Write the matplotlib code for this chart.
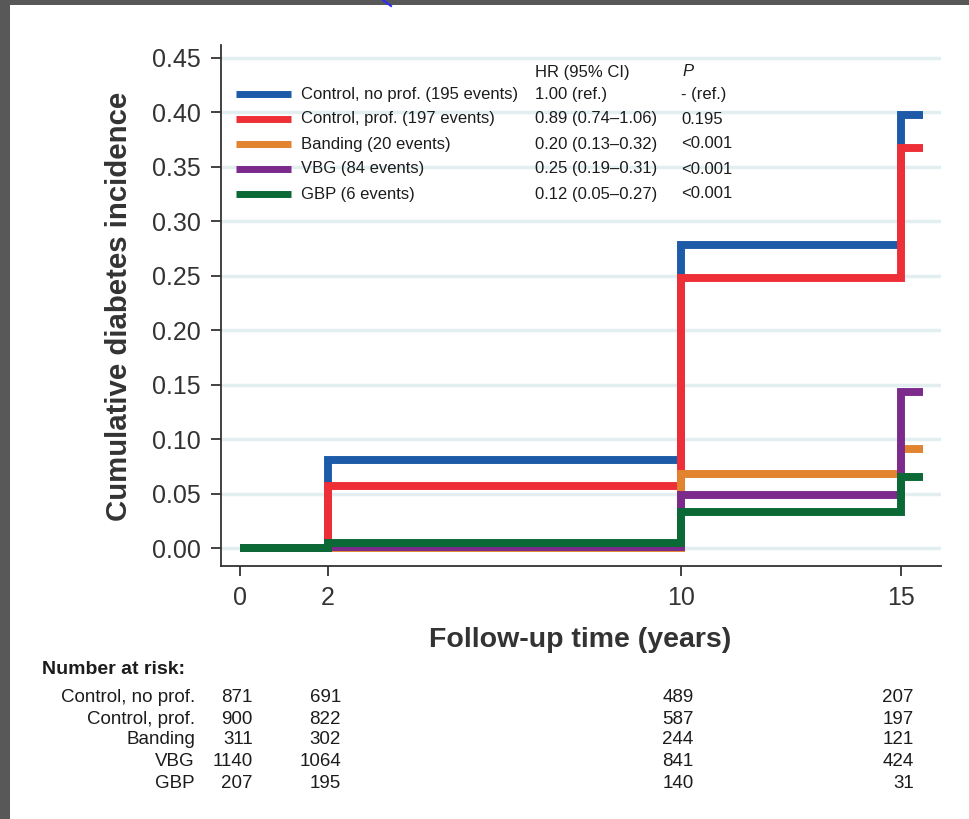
import matplotlib
matplotlib.use('Agg')
import matplotlib.pyplot as plt
import matplotlib.transforms as mtransforms
from matplotlib.lines import Line2D
from matplotlib.patches import Rectangle
from matplotlib.ticker import FormatStrFormatter

plt.rcParams['font.family'] = ['Liberation Sans', 'DejaVu Sans']

# ---------------- data ----------------
step_times = [0, 2, 10, 15, 15.5]
group_names = ['Control, no prof.', 'Control, prof.', 'Banding', 'VBG', 'GBP']
group_events = [195, 197, 20, 84, 6]
inc_control_noprof = [0.0, 0.081, 0.278, 0.397, 0.397]
inc_control_prof = [0.0, 0.057, 0.248, 0.367, 0.367]
inc_banding = [0.0, 0.0, 0.068, 0.091, 0.091]
inc_vbg = [0.0, 0.001, 0.049, 0.143, 0.143]
inc_gbp = [0.0, 0.005, 0.033, 0.065, 0.065]
hr_labels = ['1.00 (ref.)', '0.89 (0.74\u20131.06)', '0.20 (0.13\u20130.32)',
             '0.25 (0.19\u20130.31)', '0.12 (0.05\u20130.27)']
p_labels = ['- (ref.)', '0.195', '<0.001', '<0.001', '<0.001']
risk_times = [0, 2, 10, 15]
risk_control_noprof = [871, 691, 489, 207]
risk_control_prof = [900, 822, 587, 197]
risk_banding = [311, 302, 244, 121]
risk_vbg = [1140, 1064, 841, 424]
risk_gbp = [207, 195, 140, 31]
x_ticks = [0, 2, 10, 15]
y_ticks = [0.00, 0.05, 0.10, 0.15, 0.20, 0.25, 0.30, 0.35, 0.40, 0.45]

series = [inc_control_noprof, inc_control_prof, inc_banding, inc_vbg, inc_gbp]
risks = [risk_control_noprof, risk_control_prof, risk_banding, risk_vbg, risk_gbp]
colors = ['#1d5aa8', '#ee2f37', '#e2832f', '#7c2a8c', '#0a6935']
txt = '#1c1c1c'

W, H = 969, 819
def fx(p):
    return p / W
def fy(p):
    return 1 - p / H

fig = plt.figure(figsize=(W / 100, H / 100), dpi=100, facecolor='#585858')
fig.add_artist(Rectangle((fx(10), 0), 1 - fx(10), fy(5), transform=fig.transFigure,
                         facecolor='white', edgecolor='none', zorder=-10))
fig.add_artist(Line2D([fx(383), fx(391)], [fy(0), fy(6)], color='#2a2aff', lw=1.5,
                      transform=fig.transFigure))

ax = fig.add_axes([fx(221), fy(566), (941 - 221) / W, (566 - 45) / H])
ax.set_facecolor('white')

for ys, c in zip(series, colors):
    ax.plot(step_times, ys, drawstyle='steps-post', color=c, lw=5.7,
            solid_capstyle='butt', solid_joinstyle='miter', zorder=3)

ax.set_xlim(-0.43, 15.91)
ax.set_ylim(-0.0162, 0.4615)
ax.set_xticks(x_ticks)
ax.set_yticks(y_ticks)
ax.yaxis.set_major_formatter(FormatStrFormatter('%.2f'))
ax.grid(axis='y', color='#e3eef1', lw=2.5)
ax.set_axisbelow(True)
for s in ['top', 'right']:
    ax.spines[s].set_visible(False)
for s in ['left', 'bottom']:
    ax.spines[s].set_color('#333333')
    ax.spines[s].set_linewidth(1.3)
ax.tick_params(axis='both', direction='out', length=7.5, width=1.3, color='#333333',
               labelsize=18, labelcolor='#333333')
ax.tick_params(axis='y', pad=7)
ax.tick_params(axis='x', pad=7)

fig.text(fx(119), fy(306), 'Cumulative diabetes incidence', rotation=90,
         fontsize=21.2, fontweight='bold', color='#333333', ha='center', va='center')
fig.text(fx(580), fy(640), 'Follow-up time (years)', fontsize=20.5,
         fontweight='bold', color='#333333', ha='center', va='center')

# legend-like table
row_y = [94, 119, 144, 169, 194]
fig.text(fx(535), fy(72), 'HR (95% CI)', fontsize=12, color=txt, ha='left', va='center')
fig.text(fx(682), fy(72), 'P', fontsize=12, color=txt, ha='left', va='center', style='italic')
for i, (name, ev, hr, p, c) in enumerate(zip(group_names, group_events, hr_labels, p_labels, colors)):
    fig.add_artist(Line2D([fx(236), fx(291)], [fy(row_y[i]), fy(row_y[i])], color=c,
                          lw=5, solid_capstyle='butt', transform=fig.transFigure))
    fig.text(fx(301), fy(row_y[i]), f'{name} ({ev} events)', fontsize=12, color=txt,
             ha='left', va='center')
    fig.text(fx(535), fy(row_y[i]), hr, fontsize=12, color=txt, ha='left', va='center')
    fig.text(fx(681), fy(row_y[i]), p, fontsize=12, color=txt, ha='left', va='center')

# number at risk
fig.text(fx(42), fy(670), 'Number at risk:', fontsize=14, fontweight='bold', color=txt,
         ha='left', va='center')
risk_y = [697, 719, 740, 762, 784]
blend = mtransforms.blended_transform_factory(ax.transData, fig.transFigure)
offs = mtransforms.ScaledTranslation(13 / 100, 0, fig.dpi_scale_trans)
for i, (name, r) in enumerate(zip(group_names, risks)):
    fig.text(fx(195), fy(risk_y[i]), name, fontsize=13.5, color=txt, ha='right', va='center')
    for t, n in zip(risk_times, r):
        ax.text(t, fy(risk_y[i]), str(n), transform=blend + offs, fontsize=13.5,
                color=txt, ha='right', va='center', clip_on=False)

fig.savefig('out.png', dpi=100, facecolor=fig.get_facecolor())
